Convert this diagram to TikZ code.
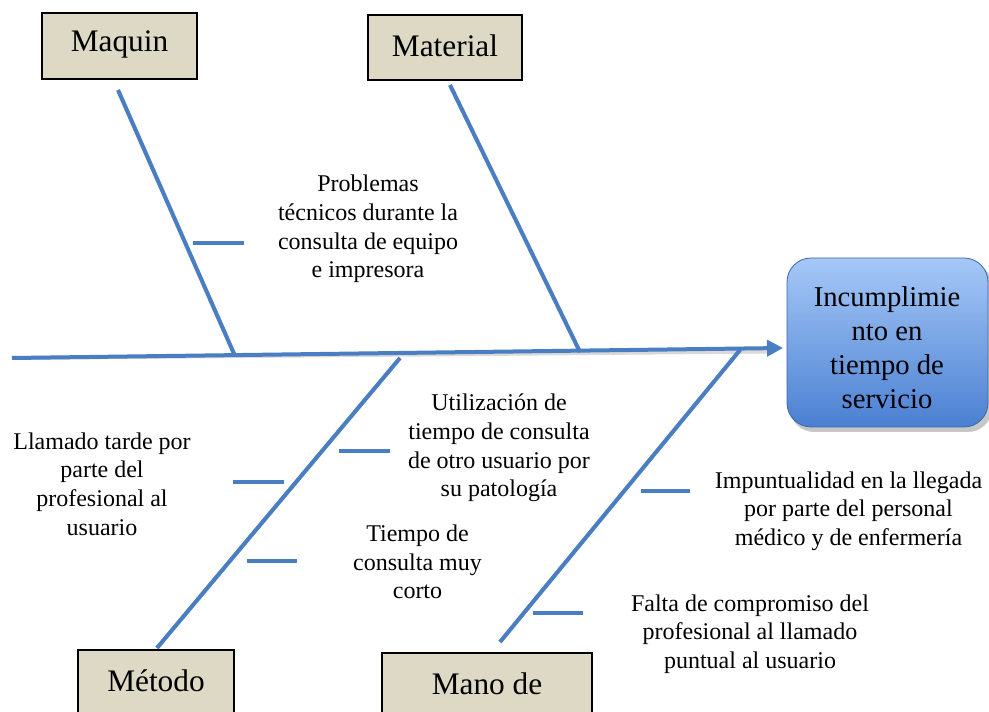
\documentclass[tikz,border=0pt]{standalone}
\usepackage{fontspec}
\setmainfont{Liberation Serif}
\usetikzlibrary{arrows.meta}
\definecolor{bone}{HTML}{4A7EC2}
\definecolor{cat}{HTML}{DDD9C4}
\definecolor{headtop}{HTML}{A6C8F7}
\definecolor{headbot}{HTML}{4A80D2}
\begin{document}
\begin{tikzpicture}[x=0.75pt,y=-0.75pt,
  bonel/.style={draw=bone,line width=3pt},
  bshadow/.style={draw=black,opacity=0.15,line width=3pt,shift={(1.5,2.5)}},
  tick/.style={draw=bone,line width=2.4pt},
  catbox/.style={draw=black,line width=1.5pt,fill=cat,inner sep=0pt},
  lbl/.style={align=center,font=\fontsize{18}{21.4}\selectfont,inner sep=0pt},
  catlbl/.style={font=\fontsize{23.5}{27}\selectfont,inner sep=0pt}]
\useasboundingbox (0,0) rectangle (989,712);
% category boxes
\draw[catbox] (42,13) rectangle (197,79);
\node[catlbl] (maq) at (119.5,44) {Maquin};
\draw[catbox] (368,15) rectangle (522,80);
\node[catlbl] (mat) at (445,46) {Material};
\draw[catbox] (78,650) rectangle (234,730);
\node[catlbl] (met) at (156,681) {Método};
\draw[catbox] (382,653) rectangle (592,730);
\node[catlbl] (man) at (487,684) {Mano de};
% head
\fill[black!22,rounded corners=18] (790,262) rectangle (992,432);
\shade[top color=headtop,bottom color=headbot,rounded corners=18,draw=headbot!80!black,line width=0.6pt] (787,258) rectangle (988,427);
\node[align=center,font=\fontsize{21.5}{25.5}\selectfont,inner sep=0pt] (head) at (887,348) {Incumplimie\\nto en\\tiempo de\\servicio};
% coordinates
\coordinate (s0) at (12,358);
\coordinate (s1) at (783,348);
\coordinate (b1a) at (118,90); \coordinate (b1b) at (235,356);
\coordinate (b2a) at (450,85); \coordinate (b2b) at (580,352);
\coordinate (b3a) at (157,648); \coordinate (b3b) at (400,358);
\coordinate (b4a) at (500,642); \coordinate (b4b) at (740,350);
% shadows
\draw[bshadow] (s0) -- (770,349);
\foreach \i in {1,...,4} {\draw[bshadow] (b\i a) -- (b\i b);}
% spine
\draw[bonel,-{Triangle[length=12pt,width=12pt]}] (s0) -- (s1);
% bones
\foreach \i in {1,...,4} {\draw[bonel] (b\i a) -- (b\i b);}
% ticks
\coordinate (t1a) at (193,243); \coordinate (t1b) at (244,243);
\coordinate (t2a) at (339,451); \coordinate (t2b) at (390,451);
\coordinate (t3a) at (233,482); \coordinate (t3b) at (284,482);
\coordinate (t4a) at (247,561); \coordinate (t4b) at (297,561);
\coordinate (t5a) at (641,491); \coordinate (t5b) at (690,491);
\coordinate (t6a) at (533,613); \coordinate (t6b) at (583,613);
\foreach \i in {1,...,6} {\draw[tick] (t\i a) -- (t\i b);}
% labels
\node[lbl] (l1) at (368,229) {Problemas\\técnicos durante la\\consulta de equipo\\e impresora};
\node[lbl] (l2) at (499,448) {Utilización de\\tiempo de consulta\\de otro usuario por\\su patología};
\node[lbl] (l3) at (102,484) {Llamado tarde por\\parte del\\profesional al\\usuario};
\node[lbl] (l4) at (417.5,562) {Tiempo de\\consulta muy\\corto};
\node[lbl] (l5) at (848.5,511) {Impuntualidad en la llegada\\por parte del personal\\médico y de enfermería};
\node[lbl] (l6) at (750,634) {Falta de compromiso del\\profesional al llamado\\puntual al usuario};
\end{tikzpicture}
\end{document}
